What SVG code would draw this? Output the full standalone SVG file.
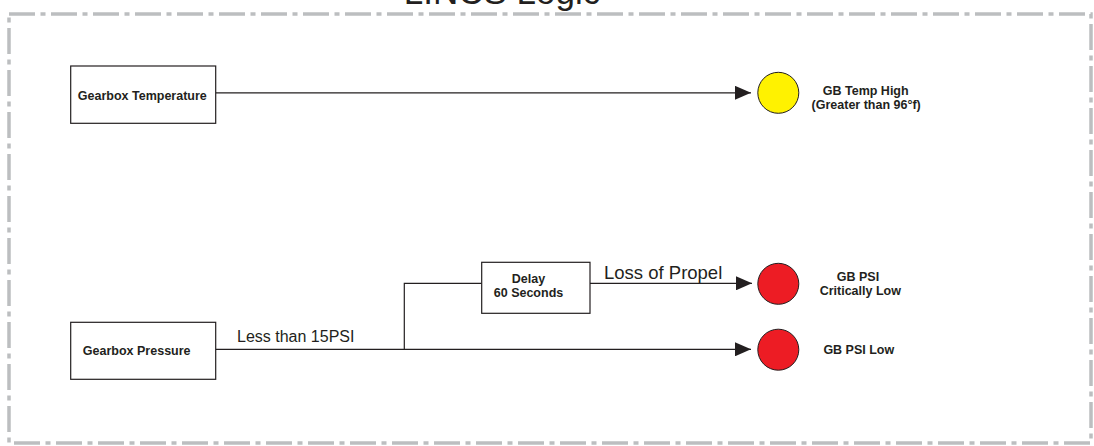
<svg xmlns="http://www.w3.org/2000/svg" width="1094" height="446" viewBox="0 0 1094 446">
<style>
.frame{fill:none;stroke:#bcbec0;stroke-width:3.5;stroke-dasharray:26 5.5 5 5.5}
.box{fill:#fff;stroke:#231f20;stroke-width:1.2}
.lbl{font-family:"Liberation Sans",Arial,sans-serif;font-weight:bold;font-size:12.5px;fill:#231f20;text-anchor:middle}
.edge{font-family:"Liberation Sans",Arial,sans-serif;fill:#231f20}
.wire{fill:none;stroke:#231f20;stroke-width:1.2}
.lamp{stroke:#231f20;stroke-width:1}
</style>
<defs>
<marker id="arr" markerWidth="16" markerHeight="14" refX="16" refY="7" orient="auto" markerUnits="userSpaceOnUse">
<path d="M0,0 L16,7 L0,14 Z" fill="#231f20"/>
</marker>
</defs>
<rect width="1094" height="446" fill="#fff"/>
<text x="502" y="4" class="edge" font-size="35" text-anchor="middle">LINCS Logic</text>
<rect class="frame" x="9" y="14" width="1082" height="429"/>
<g id="connectors">
<path class="wire" d="M215.7,92.8 H751" marker-end="url(#arr)"/>
<path class="wire" d="M215.7,349.3 H751" marker-end="url(#arr)"/>
<path class="wire" d="M404.3,349.3 V283.3 H481.7"/>
<path class="wire" d="M590,283.3 H752" marker-end="url(#arr)"/>
<text class="edge" x="237" y="342.3" font-size="16">Less than 15PSI</text>
<text class="edge" x="604" y="279.3" font-size="18.5">Loss of Propel</text>
</g>
<g id="gearbox-temperature">
<rect class="box" x="70.7" y="66" width="145" height="57.3"/>
<text class="lbl" x="142.3" y="100">Gearbox Temperature</text>
</g>
<g id="gearbox-pressure">
<rect class="box" x="70.7" y="322.3" width="145" height="57"/>
<text class="lbl" x="136.7" y="355">Gearbox Pressure</text>
</g>
<g id="delay">
<rect class="box" x="481.7" y="262.3" width="108.3" height="51"/>
<text class="lbl" x="528.5" y="283.3">Delay</text>
<text class="lbl" x="528.5" y="296.7">60 Seconds</text>
</g>
<g id="gb-temp-high">
<circle class="lamp" cx="778.3" cy="92.8" r="20.5" fill="#fff200"/>
<text class="lbl" x="865.7" y="95">GB Temp High</text>
<text class="lbl" x="866.2" y="109.3">(Greater than 96°f)</text>
</g>
<g id="gb-psi-critically-low">
<circle class="lamp" cx="778.3" cy="283.8" r="20.5" fill="#ed1c24"/>
<text class="lbl" x="858" y="280.7">GB PSI</text>
<text class="lbl" x="860.3" y="295">Critically Low</text>
</g>
<g id="gb-psi-low">
<circle class="lamp" cx="778.3" cy="349.7" r="20.5" fill="#ed1c24"/>
<text class="lbl" x="858.8" y="354.3">GB PSI Low</text>
</g>
</svg>
